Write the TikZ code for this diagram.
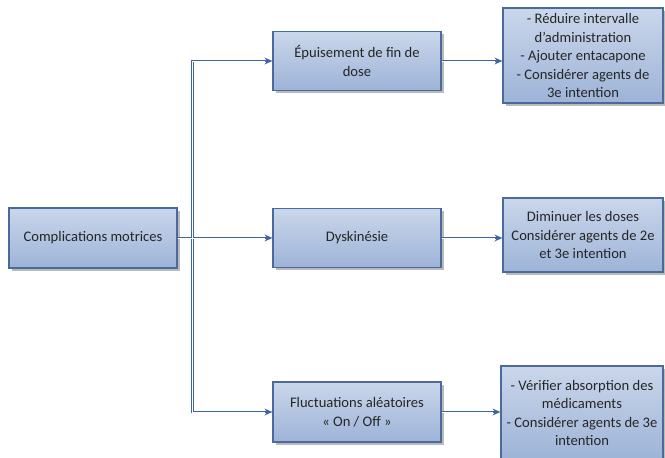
\documentclass[tikz,border=0pt]{standalone}
\usepackage{fontspec}
\setmainfont{Carlito}
\usetikzlibrary{shadows,arrows.meta}
\definecolor{boxtop}{HTML}{CAD7EB}
\definecolor{boxbot}{HTML}{9DB3D7}
\definecolor{boxline}{HTML}{4A6A9C}
\definecolor{connline}{HTML}{3F66A3}
\tikzset{
  box/.style={draw=boxline, line width=1.1pt, top color=boxtop, bottom color=boxbot,
    align=center, inner sep=2pt, font=\fontsize{14.6}{18.5}\selectfont, text=black!85,
    general shadow={shadow xshift=2.5pt, shadow yshift=-2.5pt, fill=black!45, opacity=.6}},
  connout/.style={draw=connline, line width=2.6pt,
    -{Stealth[length=8pt,width=7pt,line width=0pt,fill=connline]}},
  connin/.style={draw=white, line width=1pt, shorten >=7pt},
}
\begin{document}
\begin{tikzpicture}[x=1pt,y=-1pt]
\useasboundingbox (0,0) rectangle (665,458);
\node[box, minimum width=168pt, minimum height=60pt] (cm) at (93,238) {Complications motrices};
\node[box, minimum width=168pt, minimum height=59pt] (b1) at (357,61) {Épuisement de fin de\\dose};
\node[box, minimum width=168pt, minimum height=59pt] (b2) at (357,238) {Dyskinésie};
\node[box, minimum width=168pt, minimum height=60pt] (b3) at (357,412) {Fluctuations aléatoires\\« On / Off »};
\node[box, minimum width=160pt, minimum height=95pt] (r1) at (583,55.5) {- Réduire intervalle\\d’administration\\- Ajouter entacapone\\- Considérer agents de\\3e intention};
\node[box, minimum width=160pt, minimum height=74pt] (r2) at (583,235) {Diminuer les doses\\Considérer agents de 2e\\et 3e intention};
\node[box, minimum width=162pt, minimum height=94pt] (r3) at (582,413) {- Vérifier absorption des\\médicaments\\- Considérer agents de 3e\\intention};
% outer blue lines
\draw[connout] (cm.east) -- ++(15,0) |- (b1.west);
\draw[connout] (cm.east) -- ++(15,0) |- (b3.west);
\draw[connout] (cm.east) -- (b2.west);
\draw[connout] (b1.east) -- (b1.east -| r1.west);
\draw[connout] (b2.east) -- (b2.east -| r2.west);
\draw[connout] (b3.east) -- (b3.east -| r3.west);
% white cores
\draw[connin] (cm.east) -- ++(15,0) |- (b1.west);
\draw[connin] (cm.east) -- ++(15,0) |- (b3.west);
\draw[connin] (cm.east) -- (b2.west);
\draw[connin] (b1.east) -- (b1.east -| r1.west);
\draw[connin] (b2.east) -- (b2.east -| r2.west);
\draw[connin] (b3.east) -- (b3.east -| r3.west);
\end{tikzpicture}
\end{document}
